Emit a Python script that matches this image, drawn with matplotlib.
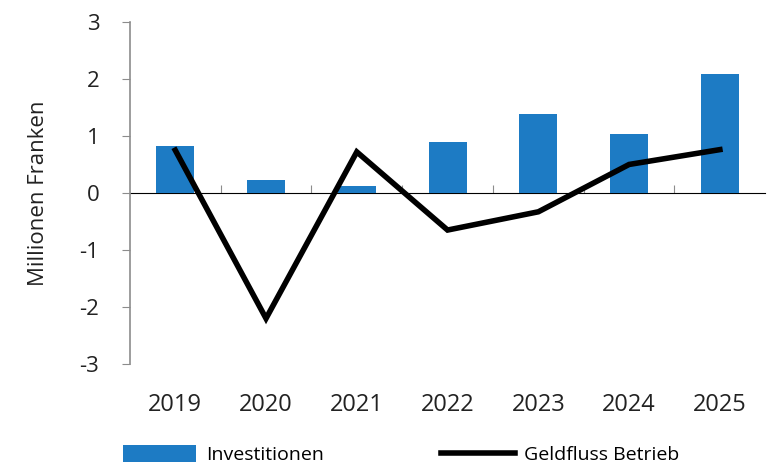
import matplotlib.pyplot as plt
import numpy as np

# Daten (Millionen Franken)
jahre = ["2019", "2020", "2021", "2022", "2023", "2024", "2025"]
investitionen = [0.82, 0.23, 0.13, 0.90, 1.39, 1.04, 2.09]
geldfluss_betrieb = [0.75, -2.2, 0.72, -0.65, -0.33, 0.50, 0.76]
y_ticks = [-3, -2, -1, 0, 1, 2, 3]

BLAU = "#1d7bc4"
GRAU = "#8c8c8c"
TEXT = "#222222"

plt.rcParams["font.family"] = ["Open Sans", "DejaVu Sans"]

fig = plt.figure(figsize=(7.73, 4.65), dpi=100)
ax = fig.add_axes([0.168, 0.217, 0.822, 0.736])

x = np.arange(len(jahre))
balken = ax.bar(x, investitionen, width=0.42, color=BLAU, label="Investitionen", zorder=2)
linie, = ax.plot(x, geldfluss_betrieb, color="black", linewidth=4, label="Geldfluss Betrieb",
                 solid_joinstyle="miter", zorder=3)

ax.set_xlim(-0.5, len(jahre) - 0.5)
ax.set_ylim(-3, 3)
ax.set_yticks(y_ticks)
ax.set_yticklabels([str(v) for v in y_ticks], fontsize=16, color=TEXT)
ax.set_xticks(x)
ax.set_xticklabels(jahre, fontsize=17, color=TEXT)
ax.tick_params(axis="x", length=0, pad=21)
ax.tick_params(axis="y", length=6, color=GRAU, pad=16)

for s in ["top", "right", "bottom"]:
    ax.spines[s].set_visible(False)
ax.spines["left"].set_color(GRAU)
ax.spines["left"].set_linewidth(1.2)

# Nulllinie mit Trennstrichen zwischen den Jahren
nulllinie = ax.secondary_xaxis(0.5)
nulllinie.set_xticks(x[:-1] + 0.5)
nulllinie.set_xticklabels([])
nulllinie.tick_params(length=6, color=GRAU)
nulllinie.spines["bottom"].set_color(GRAU)
nulllinie.spines["bottom"].set_linewidth(1.2)

ax.set_ylabel("Millionen Franken", fontsize=16, color=TEXT, labelpad=22)

fig.legend(handles=[balken, linie], loc="center left", bbox_to_anchor=(0.146, 0.022),
           ncol=2, frameon=False, borderpad=0, fontsize=14, handlelength=3.8,
           handleheight=0.9, handletextpad=0.5, columnspacing=6.0)

fig.savefig("out.png", dpi=100)
